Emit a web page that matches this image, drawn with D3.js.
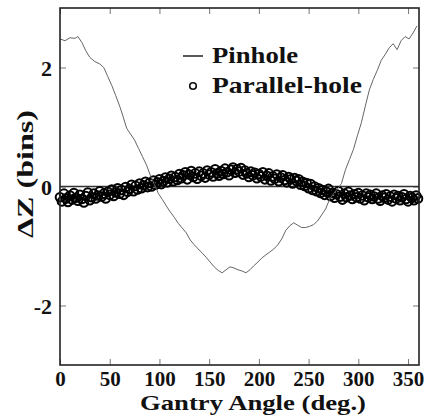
<!DOCTYPE html>
<html>
<head>
<meta charset="utf-8">
<script src="https://cdn.jsdelivr.net/npm/d3@7"></script>
<style>
  body { margin: 0; background: #fff; }
  svg text { font-family: "Liberation Serif", "Times New Roman", serif; font-weight: bold; fill: #111; }
</style>
</head>
<body>
<div id="chart"></div>
<script>
// chart data
var xTicks = [0, 50, 100, 150, 200, 250, 300, 350];
var yTicks = [-2, 0, 2];
var seriesNames = ["Pinhole", "Parallel-hole"];

var pinholeAngle = [0, 5, 10, 15, 18, 22, 26, 30, 35, 40, 44, 48, 52, 56, 60, 63, 67, 71, 75, 79,
  83, 87, 91, 95, 99, 103, 107, 111, 115, 119, 123, 127, 131, 135, 139, 143, 147, 151, 155, 159,
  163, 167, 171, 175, 179, 183, 187, 191, 195, 199, 203, 207, 211, 215, 219, 223, 227, 231, 235, 239,
  243, 247, 251, 255, 259, 263, 267, 271, 275, 279, 283, 287, 291, 295, 299, 303, 307, 311, 315, 319,
  323, 327, 331, 335, 339, 343, 347, 351, 355, 359];
var pinholeDz = [2.48, 2.45, 2.50, 2.49, 2.52, 2.42, 2.28, 2.17, 2.10, 2.06, 2.00, 1.85, 1.70, 1.53, 1.35, 1.20, 0.98, 0.88, 0.78, 0.64,
  0.50, 0.36, 0.18, 0.03, -0.12, -0.22, -0.33, -0.43, -0.52, -0.62, -0.70, -0.78, -0.90, -0.98, -1.05, -1.12, -1.19, -1.27, -1.35, -1.41,
  -1.45, -1.40, -1.35, -1.37, -1.40, -1.42, -1.45, -1.40, -1.33, -1.27, -1.20, -1.15, -1.10, -1.05, -0.98, -0.88, -0.74, -0.66, -0.61, -0.65,
  -0.69, -0.69, -0.67, -0.64, -0.58, -0.48, -0.38, -0.22, -0.12, -0.04, 0.05, 0.28, 0.45, 0.62, 0.85, 1.07, 1.35, 1.62, 1.80, 1.95,
  2.12, 2.22, 2.33, 2.40, 2.30, 2.45, 2.52, 2.48, 2.58, 2.70];

var parallelAngle = [0, 2, 4, 6, 8, 10, 12, 14, 16, 18, 20, 22, 24, 26, 28, 30, 32, 34, 36, 38,
  40, 42, 44, 46, 48, 50, 52, 54, 56, 58, 60, 62, 64, 66, 68, 70, 72, 74, 76, 78,
  80, 82, 84, 86, 88, 90, 92, 94, 96, 98, 100, 102, 104, 106, 108, 110, 112, 114, 116, 118,
  120, 122, 124, 126, 128, 130, 132, 134, 136, 138, 140, 142, 144, 146, 148, 150, 152, 154, 156, 158,
  160, 162, 164, 166, 168, 170, 172, 174, 176, 178, 180, 182, 184, 186, 188, 190, 192, 194, 196, 198,
  200, 202, 204, 206, 208, 210, 212, 214, 216, 218, 220, 222, 224, 226, 228, 230, 232, 234, 236, 238,
  240, 242, 244, 246, 248, 250, 252, 254, 256, 258, 260, 262, 264, 266, 268, 270, 272, 274, 276, 278,
  280, 282, 284, 286, 288, 290, 292, 294, 296, 298, 300, 302, 304, 306, 308, 310, 312, 314, 316, 318,
  320, 322, 324, 326, 328, 330, 332, 334, 336, 338, 340, 342, 344, 346, 348, 350, 352, 354, 356, 358, 360];
var parallelDz = [-0.18, -0.25, -0.12, -0.20, -0.26, -0.15, -0.22, -0.11, -0.19, -0.24,
  -0.14, -0.21, -0.27, -0.16, -0.10, -0.23, -0.18, -0.12, -0.20, -0.15,
  -0.08, -0.17, -0.12, -0.20, -0.09, -0.14, -0.05, -0.16, -0.10, -0.03,
  -0.12, -0.06, -0.14, -0.01, -0.09, -0.04, 0.03, -0.08, 0.01, -0.05,
  0.05, -0.03, 0.02, 0.08, -0.01, 0.06, 0.00, 0.10, 0.03, 0.07,
  0.12, 0.04, 0.09, 0.15, 0.07, 0.13, 0.18, 0.09, 0.16, 0.11,
  0.21, 0.14, 0.19, 0.24, 0.12, 0.20, 0.26, 0.16, 0.22, 0.13,
  0.25, 0.18, 0.22, 0.15, 0.27, 0.20, 0.24, 0.17, 0.29, 0.22,
  0.18, 0.26, 0.21, 0.30, 0.24, 0.19, 0.28, 0.32, 0.23, 0.29,
  0.25, 0.31, 0.20, 0.27, 0.22, 0.16, 0.25, 0.19, 0.23, 0.14,
  0.21, 0.17, 0.24, 0.12, 0.18, 0.22, 0.10, 0.17, 0.13, 0.20,
  0.09, 0.15, 0.19, 0.11, 0.07, 0.16, 0.12, 0.05, 0.14, 0.09,
  0.12, 0.03, 0.08, 0.01, 0.06, -0.03, 0.04, -0.06, 0.00, -0.08,
  -0.03, -0.11, -0.06, -0.14, -0.09, -0.04, -0.16, -0.11, -0.19, -0.13,
  -0.08, -0.17, -0.22, -0.12, -0.18, -0.09, -0.15, -0.21, -0.13, -0.18,
  -0.11, -0.20, -0.15, -0.23, -0.12, -0.18, -0.14, -0.21, -0.17, -0.12,
  -0.20, -0.24, -0.15, -0.19, -0.13, -0.22, -0.17, -0.25, -0.14, -0.20,
  -0.16, -0.23, -0.18, -0.13, -0.21, -0.25, -0.16, -0.19, -0.23, -0.15,
  -0.20];

var svgWidth = 433;
var svgHeight = 420;
var margin = { top: 8, right: 14, bottom: 55, left: 60 };
var chartWidth = svgWidth - margin.left - margin.right;
var chartHeight = svgHeight - margin.top - margin.bottom;
var fontFamily = '"Liberation Serif", "Times New Roman", serif';

var svg = d3.select("#chart").append("svg")
  .attr("width", svgWidth)
  .attr("height", svgHeight);

var chartGroup = svg.append("g")
  .attr("transform", `translate(${margin.left}, ${margin.top})`);

var xScale = d3.scaleLinear().domain([0, 361]).range([0, chartWidth]);
var yScale = d3.scaleLinear().domain([-3, 3]).range([chartHeight, 0]);

var fmt = function (d) { return String(d); };

// axes with inward ticks on all four sides
var xAxis = chartGroup.append("g")
  .attr("transform", `translate(0, ${chartHeight})`)
  .call(d3.axisBottom(xScale).tickValues(xTicks).tickSize(-6).tickFormat(fmt));
var yAxis = chartGroup.append("g")
  .call(d3.axisLeft(yScale).tickValues(yTicks).tickSize(-6).tickPadding(8).tickFormat(fmt));
chartGroup.append("g")
  .call(d3.axisTop(xScale).tickValues(xTicks).tickSize(-6).tickFormat(""));
chartGroup.append("g")
  .attr("transform", `translate(${chartWidth}, 0)`)
  .call(d3.axisRight(yScale).tickValues(yTicks).tickSize(-6).tickFormat(""));

chartGroup.selectAll(".domain").remove();
chartGroup.selectAll(".tick line").attr("stroke", "#777").attr("stroke-width", 1);

xAxis.selectAll("text")
  .attr("y", 21).attr("dy", 0)
  .style("font-family", fontFamily)
  .style("font-size", "21px");
yAxis.selectAll("text")
  .attr("dy", "0.35em")
  .style("font-family", fontFamily)
  .style("font-size", "22px");

// zero line
chartGroup.append("line")
  .attr("x1", 0).attr("x2", chartWidth)
  .attr("y1", yScale(0)).attr("y2", yScale(0))
  .attr("stroke", "#333")
  .attr("stroke-width", 1.3);

// parallel-hole points
chartGroup.append("g").selectAll("circle")
  .data(parallelAngle)
  .enter()
  .append("circle")
  .attr("cx", function (d) { return xScale(d); })
  .attr("cy", function (d, i) { return yScale(parallelDz[i]); })
  .attr("r", 4.3)
  .attr("fill", "none")
  .attr("stroke", "#000")
  .attr("stroke-width", 2);

// pinhole line
var line = d3.line()
  .x(function (d) { return xScale(d); })
  .y(function (d, i) { return yScale(pinholeDz[i]); });

chartGroup.append("path")
  .datum(pinholeAngle)
  .attr("d", line)
  .attr("fill", "none")
  .attr("stroke", "#666")
  .attr("stroke-width", 1);

// frame
chartGroup.append("rect")
  .attr("width", chartWidth)
  .attr("height", chartHeight)
  .attr("fill", "none")
  .attr("stroke", "#222")
  .attr("stroke-width", 1.6);

// legend
svg.append("line")
  .attr("x1", 183).attr("x2", 203)
  .attr("y1", 56).attr("y2", 56)
  .attr("stroke", "#222")
  .attr("stroke-width", 1.5);
svg.append("circle")
  .attr("cx", 193).attr("cy", 86)
  .attr("r", 3.3)
  .attr("fill", "none")
  .attr("stroke", "#111")
  .attr("stroke-width", 1.6);
svg.append("text")
  .attr("x", 212).attr("y", 63)
  .style("font-size", "23px")
  .attr("textLength", 86).attr("lengthAdjust", "spacingAndGlyphs")
  .text(seriesNames[0]);
svg.append("text")
  .attr("x", 212).attr("y", 93)
  .style("font-size", "23px")
  .attr("textLength", 150).attr("lengthAdjust", "spacingAndGlyphs")
  .text(seriesNames[1]);

// axis labels
svg.append("text")
  .attr("text-anchor", "middle")
  .attr("x", 253)
  .attr("y", 410)
  .style("font-size", "22px")
  .attr("textLength", 226).attr("lengthAdjust", "spacingAndGlyphs")
  .text("Gantry Angle (deg.)");

svg.append("text")
  .attr("text-anchor", "middle")
  .attr("transform", "translate(33, 174) rotate(-90)")
  .style("font-size", "23px")
  .attr("textLength", 128).attr("lengthAdjust", "spacingAndGlyphs")
  .text("ΔZ (bins)");
</script>
</body>
</html>
